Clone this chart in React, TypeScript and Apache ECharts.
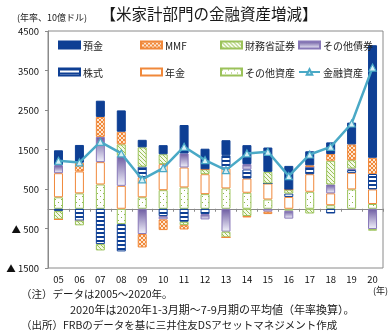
import React, { useEffect, useRef } from 'react';
import * as echarts from 'echarts';

const categories = ['05', '06', '07', '08', '09', '10', '11', '12', '13', '14', '15', '16', '17', '18', '19', '20'];
const deposits = [380, 450, 410, 540, 190, 230, 720, 520, 380, 480, 615, 600, 355, 295, 550, 2850];
const mmf = [0, 220, 505, 320, -340, -270, -110, 0, 0, -35, -60, 0, 40, 170, 400, 410];
const treasuries = [-210, -120, -160, 290, 490, 250, -85, 125, -145, -185, 295, 100, -120, 600, 210, -40];
const otherBonds = [200, 0, 640, 760, -640, -85, 355, -135, -580, 135, -75, -200, 0, 225, 40, -515];
const equities = [-60, -300, -895, -690, 270, -185, -330, -135, 335, 230, 0, 85, 185, -120, 70, 390];
const pensions = [610, 555, 565, 580, 505, 660, 505, 505, 505, 360, 405, 300, 445, 300, 420, 370];
const otherAssets = [290, 390, 615, -390, 290, 470, 540, 370, 515, 405, 235, -50, 430, 90, 490, 120];
const financialAssets = [1214, 1172, 1694, 1400, 742, 1030, 1570, 1231, 978, 1400, 1442, 826, 1374, 1568, 2158, 3574];

const yMin = -1500;
const yMax = 4500;
const yInterval = 1000;

const FONT = '"Noto Sans CJK JP", "Noto Sans", sans-serif';

function makePattern(w: number, h: number, draw: (ctx: CanvasRenderingContext2D) => void) {
  const c = document.createElement('canvas');
  c.width = w;
  c.height = h;
  const ctx = c.getContext('2d')!;
  draw(ctx);
  return { image: c.toDataURL(), repeat: 'repeat', imageWidth: w, imageHeight: h } as any;
}

export default function App() {
  const ref = useRef<HTMLDivElement>(null);
  useEffect(() => {
    const chart = echarts.init(ref.current!, null, { renderer: 'svg' });

    const orange = '#f0883a';
    const green = '#9bc25a';
    const navy = '#0e3f94';

    const mmfPattern = makePattern(4, 4, (ctx) => {
      ctx.fillStyle = '#fde6d0';
      ctx.fillRect(0, 0, 4, 4);
      ctx.fillStyle = orange;
      for (let i = 0; i < 4; i++) {
        ctx.fillRect(i, i, 1, 1);
        ctx.fillRect(3 - i, i, 1, 1);
      }
    });
    const treasPattern = makePattern(4, 4, (ctx) => {
      ctx.fillStyle = '#f4f9e8';
      ctx.fillRect(0, 0, 4, 4);
      ctx.fillStyle = green;
      for (let i = 0; i < 4; i++) ctx.fillRect(i, i, 1, 1);
    });
    const stripePattern = makePattern(4, 4, (ctx) => {
      ctx.fillStyle = '#ffffff';
      ctx.fillRect(0, 0, 4, 4);
      ctx.fillStyle = navy;
      ctx.fillRect(0, 0, 4, 2);
    });
    const dotPattern = makePattern(6, 6, (ctx) => {
      ctx.fillStyle = '#ffffff';
      ctx.fillRect(0, 0, 6, 6);
      ctx.fillStyle = '#8db84a';
      ctx.fillRect(1, 1, 1, 1);
      ctx.fillRect(4, 4, 1, 1);
    });
    const purpleGrad = new echarts.graphic.LinearGradient(0, 0, 0, 1, [
      { offset: 0, color: '#6f5ea3' },
      { offset: 1, color: '#f0f0fa' },
    ]);

    const barBase = (name: string, data: number[], color: any, border: string) => ({
      name,
      type: 'bar',
      stack: 'total',
      data,
      barWidth: 9,
      itemStyle: { color, borderColor: border, borderWidth: 1 },
      xAxisIndex: 0,
      yAxisIndex: 0,
    });

    const series: any[] = [
      barBase('その他資産', otherAssets, dotPattern, green),
      barBase('年金', pensions, '#ffffff', orange),
      barBase('株式', equities, stripePattern, navy),
      barBase('その他債券', otherBonds, purpleGrad, '#8878b8'),
      barBase('財務省証券', treasuries, treasPattern, green),
      barBase('MMF', mmf, mmfPattern, orange),
      barBase('預金', deposits, navy, navy),
      {
        name: '金融資産',
        type: 'line',
        data: financialAssets,
        z: 10,
        symbol: 'triangle',
        symbolSize: 7,
        lineStyle: { color: '#4aa9c6', width: 2.5 },
        itemStyle: { color: '#d6f0f6', borderColor: '#4aa9c6', borderWidth: 1.2 },
        xAxisIndex: 0,
        yAxisIndex: 0,
      },
    ];

    const legendItems = [
      { name: '預金', left: 58, top: 40, icon: 'rect' },
      { name: 'MMF', left: 140, top: 40, icon: 'rect' },
      { name: '財務省証券', left: 220, top: 40, icon: 'rect' },
      { name: 'その他債券', left: 298, top: 40, icon: 'rect' },
      { name: '株式', left: 58, top: 67, icon: 'rect' },
      { name: '年金', left: 140, top: 67, icon: 'rect' },
      { name: 'その他資産', left: 220, top: 67, icon: 'rect' },
      { name: '金融資産', left: 298, top: 67, icon: undefined },
    ];

    const textEl = (text: string, x: number, y: number, fontSize: number, align = 'left') => ({
      type: 'text',
      x,
      y,
      style: {
        text,
        fontSize,
        fontFamily: FONT,
        fill: '#1a1a1a',
        textAlign: align,
        textVerticalAlign: 'middle',
      },
    });

    chart.setOption({
      animation: false,
      grid: {
        left: 48,
        right: 6,
        top: 31,
        bottom: 65,
        show: true,
        borderColor: '#8a8a8a',
        borderWidth: 1,
      },
      legend: legendItems.map((l) => ({
        data: [l.icon ? { name: l.name, icon: l.icon } : { name: l.name }],
        left: l.left,
        top: l.top,
        padding: 0,
        itemWidth: 21,
        itemHeight: 7,
        itemGap: 0,
        selectedMode: false,
        textStyle: { fontSize: 10, color: '#222', fontFamily: FONT, padding: [0, 0, 0, -2] },
      })),
      xAxis: [
        {
          type: 'category',
          data: categories,
          position: 'bottom',
          axisLine: { show: false, onZero: false },
          axisTick: { show: false },
          axisLabel: { fontSize: 9.5, color: '#111', fontFamily: FONT, margin: 6 },
        },
        {
          type: 'category',
          data: categories,
          position: 'bottom',
          axisLine: { show: true, onZero: true, lineStyle: { color: '#8a8a8a', width: 1 } },
          axisTick: { show: true, length: 3, lineStyle: { color: '#8a8a8a' } },
          axisLabel: { show: false },
        },
      ],
      yAxis: {
        type: 'value',
        min: yMin,
        max: yMax,
        interval: yInterval,
        axisLine: { show: true, lineStyle: { color: '#8a8a8a' } },
        axisTick: { show: true, length: 3, lineStyle: { color: '#8a8a8a' } },
        splitLine: { show: false },
        axisLabel: {
          fontSize: 9.5,
          color: '#111',
          fontFamily: FONT,
          margin: 9,
          formatter: (v: number) => (v < 0 ? '▲ ' + Math.abs(v) : String(v)),
        },
      },
      graphic: [
        textEl('【米家計部門の金融資産増減】', 209, 13, 15.5, 'center'),
        textEl('(年率、10億ドル)', 17, 17, 9),
        textEl('(年)', 373, 290, 9),
        textEl('（注）データは2005～2020年。', 21, 293.8, 10.5),
        textEl('2020年は2020年1-3月期～7-9月期の平均値（年率換算）。', 70, 309, 11),
        textEl('（出所）FRBのデータを基に三井住友DSアセットマネジメント作成', 21, 324, 10.5),
      ],
      series,
    });

    return () => chart.dispose();
  }, []);

  return <div ref={ref} style={{ position: 'fixed', left: 0, top: 0, width: 389, height: 333 }} />;
}
